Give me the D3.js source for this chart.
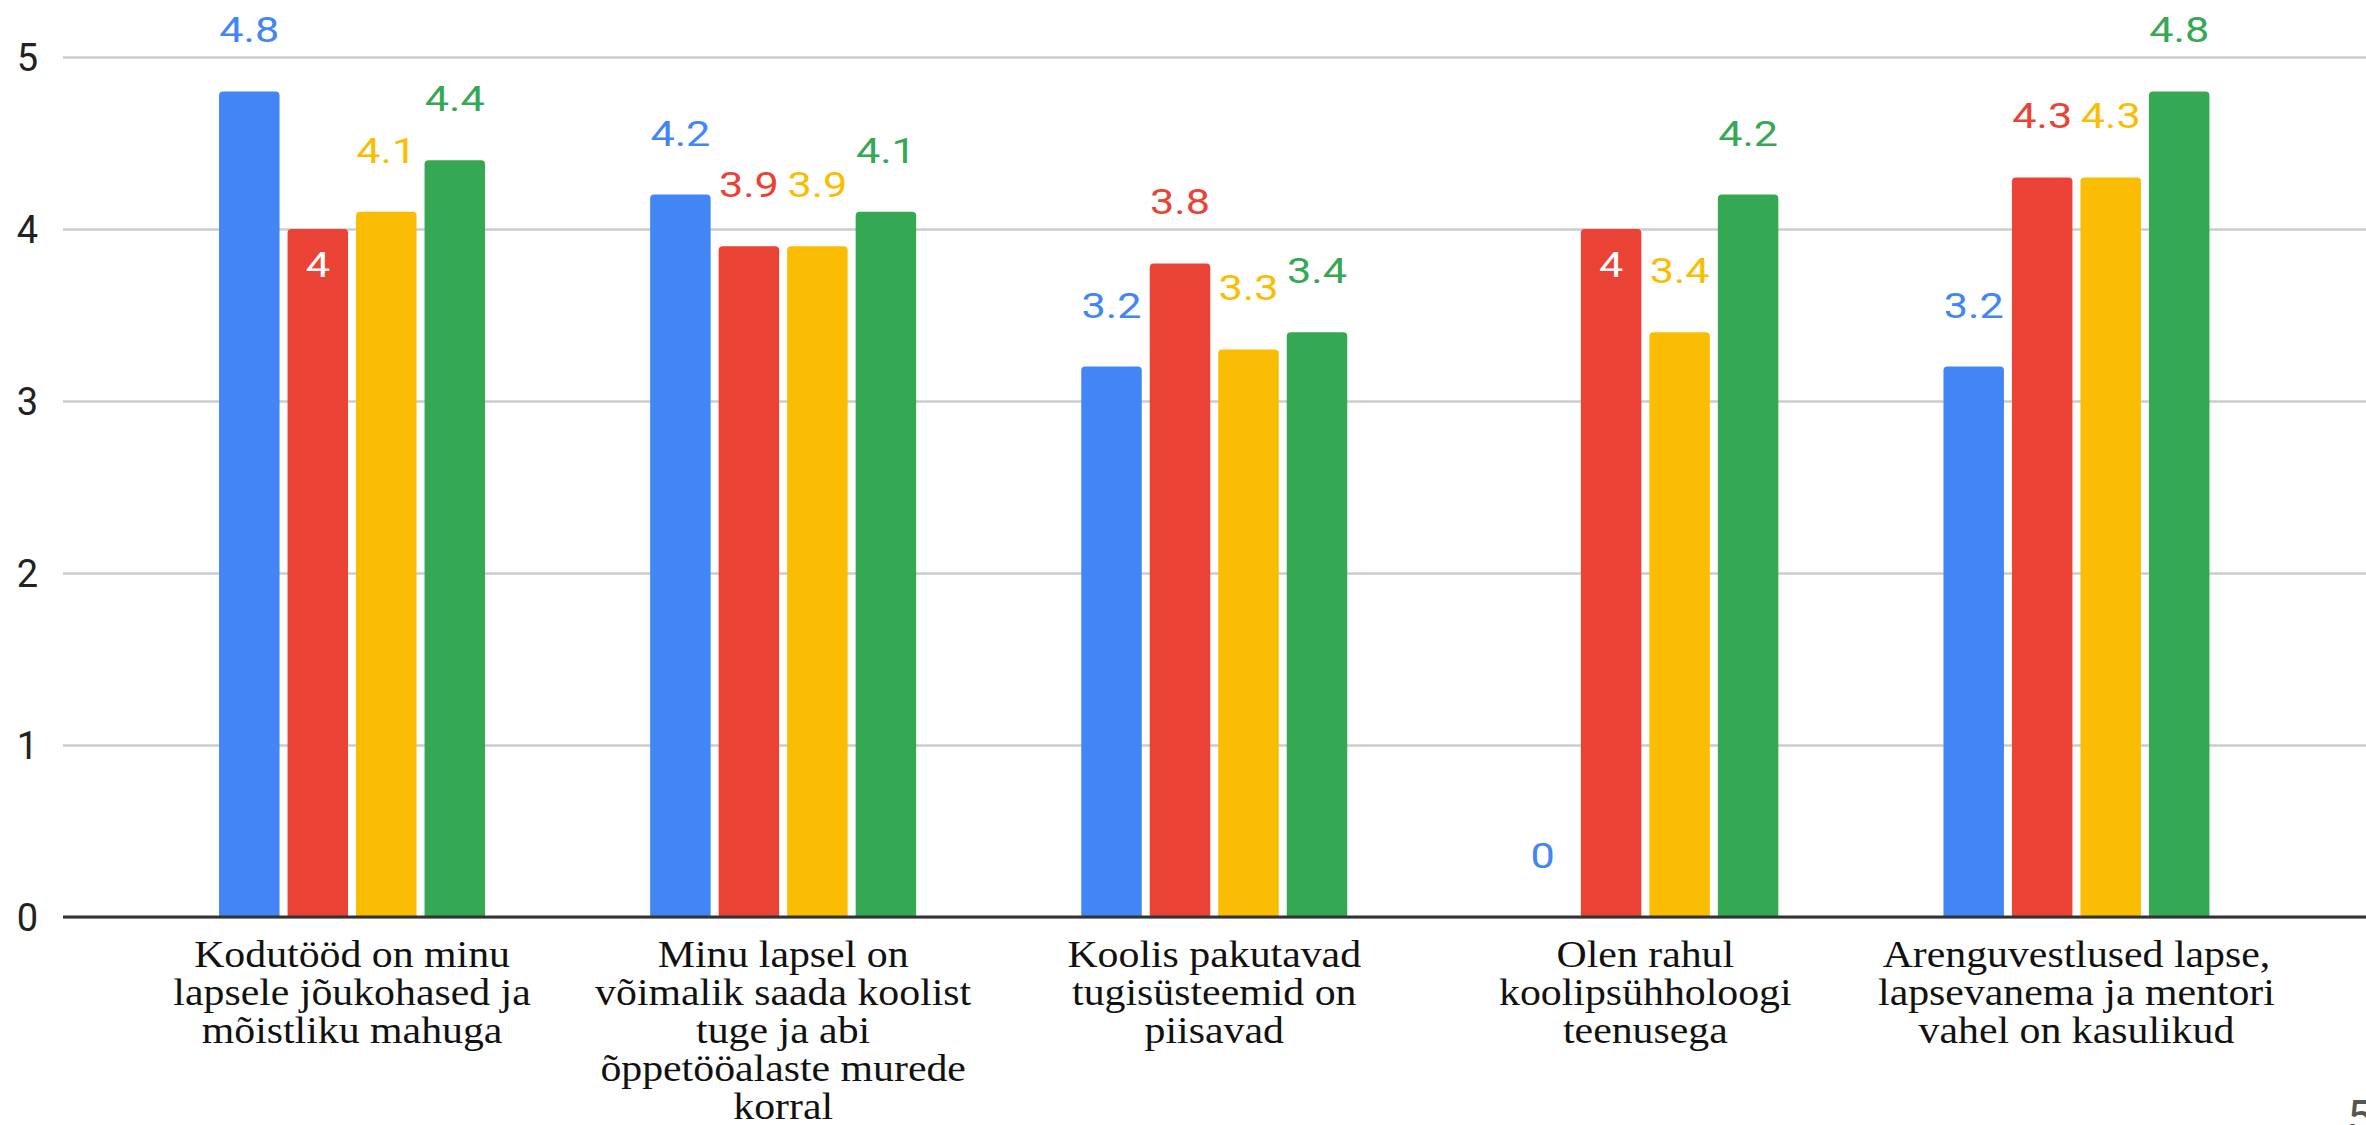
<!DOCTYPE html>
<html>
<head>
<meta charset="utf-8">
<script src="https://cdn.jsdelivr.net/npm/d3@7/dist/d3.min.js"></script>
<style>
	body { margin: 0; background: #fff; overflow: hidden; }
	svg { display: block; }
	.cat-label { font-family: "Liberation Serif", "Times New Roman", "DejaVu Serif", serif; }
</style>
</head>
<body>
<div id="chart"></div>
<script>
///////////////////////////////////////////////////////////////////////////
//////////////////////////// data /////////////////////////////////////////
///////////////////////////////////////////////////////////////////////////

const categories = [
	"Kodutööd on minu lapsele jõukohased ja mõistliku mahuga",
	"Minu lapsel on võimalik saada koolist tuge ja abi õppetööalaste murede korral",
	"Koolis pakutavad tugisüsteemid on piisavad",
	"Olen rahul koolipsühholoogi teenusega",
	"Arenguvestlused lapse, lapsevanema ja mentori vahel on kasulikud"
];

// how the category labels wrap in the picture
const categoryLines = [
	["Kodutööd on minu", "lapsele jõukohased ja", "mõistliku mahuga"],
	["Minu lapsel on", "võimalik saada koolist", "tuge ja abi", "õppetööalaste murede", "korral"],
	["Koolis pakutavad", "tugisüsteemid on", "piisavad"],
	["Olen rahul", "koolipsühholoogi", "teenusega"],
	["Arenguvestlused lapse,", "lapsevanema ja mentori", "vahel on kasulikud"]
];

const seriesNames = ["Sari 1", "Sari 2", "Sari 3", "Sari 4"];

const blueValues = [4.8, 4.2, 3.2, 0, 3.2];
const redValues = [4, 3.9, 3.8, 4, 4.3];
const yellowValues = [4.1, 3.9, 3.3, 3.4, 4.3];
const greenValues = [4.4, 4.1, 3.4, 4.2, 4.8];

const yTicks = [0, 1, 2, 3, 4, 5];

// labels that sit inside the bar in white (category index, series index)
const labelsInside = [[0, 1], [3, 1]];

///////////////////////////////////////////////////////////////////////////
//////////////////////////// Set up svg ///////////////////////////////////
///////////////////////////////////////////////////////////////////////////

const width = 2366;
const height = 1125;
const colors = ["#4285f4", "#ea4335", "#fbbc04", "#34a853"];
const allValues = [blueValues, redValues, yellowValues, greenValues];

const svg = d3
	.select("#chart")
	.append("svg")
	.attr("width", width)
	.attr("height", height)
	.attr("viewBox", [0, 0, width, height]);

// table for the bars
const data = [];
categories.forEach((c, i) => {
	seriesNames.forEach((s, j) => {
		data.push({ cat: c, ci: i, series: s, si: j, value: allValues[j][i] });
	});
});

///////////////////////////////////////////////////////////////////////////
//////////////////////////// scales ///////////////////////////////////////
///////////////////////////////////////////////////////////////////////////

const yScale = d3.scaleLinear().domain([0, 5]).range([917, 57]);

const x0 = d3
	.scaleBand()
	.domain(categories)
	.range([136.5, 2292])
	.paddingInner(0.383)
	.paddingOuter(0.1915);

const x1 = d3
	.scaleBand()
	.domain(seriesNames)
	.range([0, x0.bandwidth()])
	.paddingInner(0.117);

///////////////////////////////////////////////////////////////////////////
//////////////////////////// axes /////////////////////////////////////////
///////////////////////////////////////////////////////////////////////////

const axisLeft = 63;

const yAxis = d3
	.axisLeft(yScale)
	.tickValues(yTicks)
	.tickFormat(d3.format("d"))
	.tickSize(-(width - axisLeft))
	.tickPadding(25);

const gy = svg
	.append("g")
	.attr("class", "y-axis")
	.attr("transform", "translate(" + axisLeft + ",0)")
	.call(yAxis);

gy.select(".domain").remove();
gy.selectAll(".tick line")
	.attr("stroke", "#cccccc")
	.attr("stroke-width", 2.5);
gy.selectAll(".tick text")
	.attr("fill", "#222")
	.attr("dy", null)
	.attr("y", 13)
	.style("font-family", "Roboto, Arial, sans-serif")
	.style("font-size", "38px");

///////////////////////////////////////////////////////////////////////////
//////////////////////////// bars /////////////////////////////////////////
///////////////////////////////////////////////////////////////////////////

// rounded top corners
function barPath(x, y, w, h, r) {
	r = Math.min(r, h);
	return (
		"M" + x + "," + (y + h) +
		"V" + (y + r) +
		"Q" + x + "," + y + " " + (x + r) + "," + y +
		"H" + (x + w - r) +
		"Q" + (x + w) + "," + y + " " + (x + w) + "," + (y + r) +
		"V" + (y + h) + "Z"
	);
}

svg
	.append("g")
	.selectAll("path")
	.data(data.filter((d) => d.value > 0))
	.join("path")
	.attr("d", (d) => {
		const x = x0(d.cat) + x1(d.series);
		const y = yScale(d.value);
		return barPath(x, y, x1.bandwidth(), yScale(0) - y, 4);
	})
	.attr("fill", (d) => colors[d.si]);

// baseline
svg
	.append("line")
	.attr("x1", axisLeft)
	.attr("x2", width)
	.attr("y1", yScale(0))
	.attr("y2", yScale(0))
	.attr("stroke", "#333")
	.attr("stroke-width", 3);

///////////////////////////////////////////////////////////////////////////
//////////////////////////// value labels /////////////////////////////////
///////////////////////////////////////////////////////////////////////////

const isInside = (d) => labelsInside.some((p) => p[0] === d.ci && p[1] === d.si);

svg
	.append("g")
	.selectAll("text")
	.data(data)
	.join("text")
	.attr("transform", (d) => {
		const cx = x0(d.cat) + x1(d.series) + x1.bandwidth() / 2;
		const cy = isInside(d) ? yScale(d.value) + 48 : yScale(d.value) - 49;
		return "translate(" + cx + "," + cy + ") scale(1.2,1)";
	})
	.attr("text-anchor", "middle")
	.attr("fill", (d) => (isInside(d) ? "#fff" : colors[d.si]))
	.style("font-family", "Roboto, Arial, sans-serif")
	.style("font-size", "36px")
	.text((d) => d.value);

///////////////////////////////////////////////////////////////////////////
//////////////////////////// category labels //////////////////////////////
///////////////////////////////////////////////////////////////////////////

const catLabels = svg
	.append("g")
	.selectAll("g")
	.data(categories)
	.join("g")
	.attr("transform", (d) => "translate(" + (x0(d) + x0.bandwidth() / 2) + ",0) scale(1.1,1)");

catLabels
	.append("text")
	.attr("class", "cat-label")
	.attr("text-anchor", "middle")
	.attr("fill", "#111")
	.attr("font-size", 38)
	.selectAll("tspan")
	.data((d, i) => categoryLines[i])
	.join("tspan")
	.attr("x", 0)
	.attr("y", (d, i) => 967 + i * 38)
	.text((d) => d);

// page number, cut off at the corner
svg
	.append("text")
	.attr("x", 2347)
	.attr("y", 1133)
	.attr("fill", "#555")
	.style("font-family", "Roboto, Arial, sans-serif")
	.style("font-size", "46px")
	.text("5");
</script>
</body>
</html>
